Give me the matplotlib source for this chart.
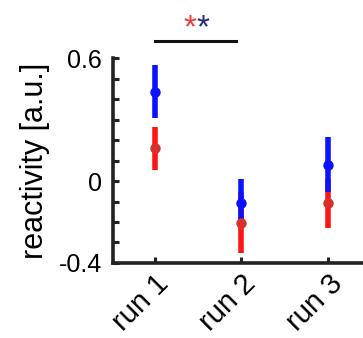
import numpy as np
import matplotlib
matplotlib.use("Agg")
import matplotlib.pyplot as plt

plt.rcParams['font.family'] = ['Liberation Sans', 'DejaVu Sans']

runs = ["run 1", "run 2", "run 3"]
blue_mean = [0.436, -0.106, 0.080]
blue_err = [0.130, 0.118, 0.135]
red_mean = [0.160, -0.203, -0.109]
red_err = [0.105, 0.150, 0.120]

BLUE = '#0a12ff'
RED = '#ff1414'
RED_DOT = '#d8302a'

fig = plt.figure(figsize=(3.63, 3.38), dpi=100)
ax = fig.add_axes([0.311, 0.222, 0.689, 0.606])

x = np.arange(1, len(runs) + 1)
ax.errorbar(x, red_mean, yerr=red_err, fmt='none', ecolor=RED, elinewidth=4, capsize=0)
ax.errorbar(x, blue_mean, yerr=blue_err, fmt='none', ecolor=BLUE, elinewidth=4, capsize=0)
ax.plot(x, red_mean, 'o', color=RED_DOT, ms=7.5, mew=0)
ax.plot(x, blue_mean, 'o', color=BLUE, ms=7.5, mew=0)

ax.set_xlim(0.52, 3.4)
ax.set_ylim(-0.4, 0.6)
ax.set_xticks(x)
ax.set_xticklabels(runs, rotation=45, ha='right', va='top', rotation_mode='anchor', fontsize=21)
yt = np.round(np.arange(-0.4, 0.61, 0.1), 1)
ax.set_yticks(yt)
ax.set_yticklabels(['-0.4' if v == -0.4 else ('0' if v == 0 else ('0.6' if v == 0.6 else '')) for v in yt], fontsize=18)
ax.tick_params(direction='in', length=4, width=2.2, color='#222222')
ax.tick_params(axis='y', pad=8)
ax.tick_params(axis='x', pad=5)
for s in ['top', 'right']:
    ax.spines[s].set_visible(False)
for s in ['left', 'bottom']:
    ax.spines[s].set_linewidth(2.6)
    ax.spines[s].set_color('#222222')
ax.set_ylabel('reactivity [a.u.]', fontsize=22, labelpad=6)

# significance bar between run 1 and run 2
ax.plot([1.01, 1.94], [0.684, 0.684], color='#111111', lw=2.2, clip_on=False)
ax.text(1.41, 0.745, '*', color='#e8403a', fontsize=24, ha='center', va='center')
ax.text(1.56, 0.745, '*', color='#2a2a80', fontsize=24, ha='center', va='center')

fig.savefig('out.png', dpi=100)
